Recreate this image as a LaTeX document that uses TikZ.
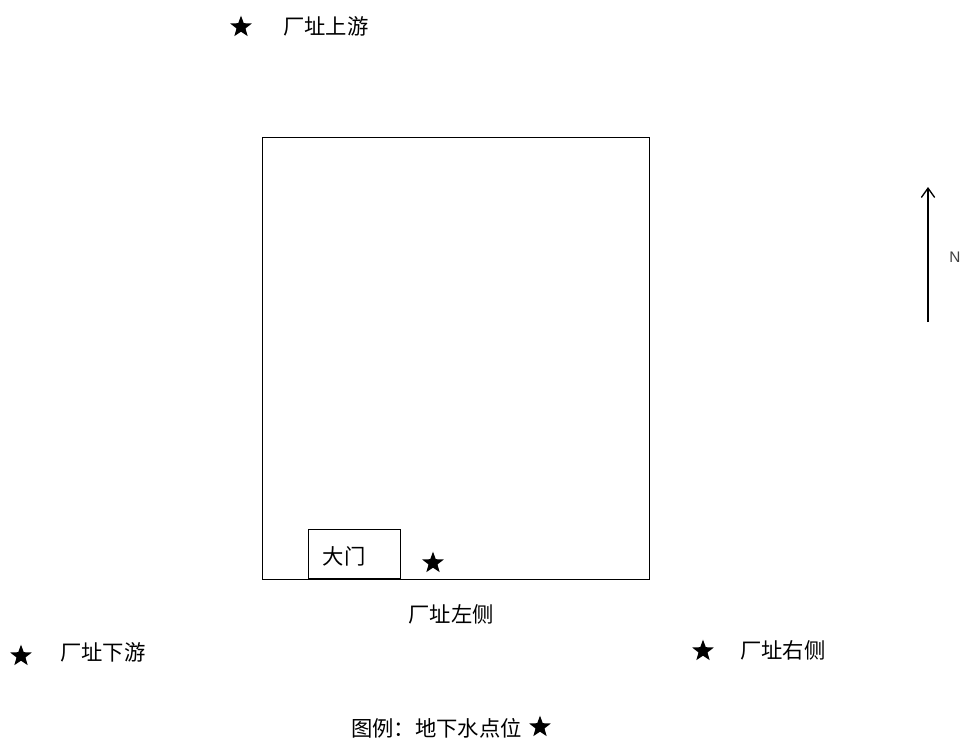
\documentclass[tikz,border=0pt]{standalone}
\usepackage{fontspec}
\setmainfont{Liberation Sans}
\newfontfamily\cjk{Noto Sans CJK SC}
\usetikzlibrary{shapes.geometric,arrows.meta}
\tikzset{
  lbl/.style={font=\cjk\fontsize{16pt}{19pt}\selectfont, inner sep=0pt},
  pstar/.style={star, star points=5, star point ratio=2.4, fill=black, draw=none, inner sep=0pt, minimum size=17pt},
  thinline/.style={draw=black, line width=1pt}
}
\begin{document}
\begin{tikzpicture}[x=0.75pt,y=-0.75pt]
\useasboundingbox (0,0) rectangle (964,744);
% site boundary
\node[thinline, minimum width=387*0.75pt, minimum height=442*0.75pt, inner sep=0pt, anchor=north west] (site) at (262,137) {};
% gate
\node[thinline, minimum width=92*0.75pt, minimum height=49*0.75pt, inner sep=0pt, anchor=south west] (gate) at (308,579) {};
\node[lbl] (gatelbl) at (344,556) {大门};
% stars and labels
\node[pstar] (s1) at (241,27) {};
\node[lbl, anchor=west] (t1) at (283,26) {厂址上游};
\node[pstar] (s2) at (433,563) {};
\node[lbl] (t2) at (451,614) {厂址左侧};
\node[pstar] (s3) at (21,656) {};
\node[lbl, anchor=west] (t3) at (60,652) {厂址下游};
\node[pstar] (s4) at (703,651) {};
\node[lbl, anchor=west] (t4) at (740,650) {厂址右侧};
% legend
\node[lbl, anchor=west] (leg) at (351,728) {图例：地下水点位};
\node[pstar] (s5) at (540,727) {};
% north arrow
\coordinate (nA) at (928,322);
\coordinate (nB) at (928,187);
\draw[line width=1pt, -{Straight Barb[length=7pt,width=10pt]}] (nA) -- (nB);
\node[font=\fontsize{11.5pt}{13pt}\selectfont, text=black!75, inner sep=0pt] (N) at (955,257) {N};
\end{tikzpicture}
\end{document}
